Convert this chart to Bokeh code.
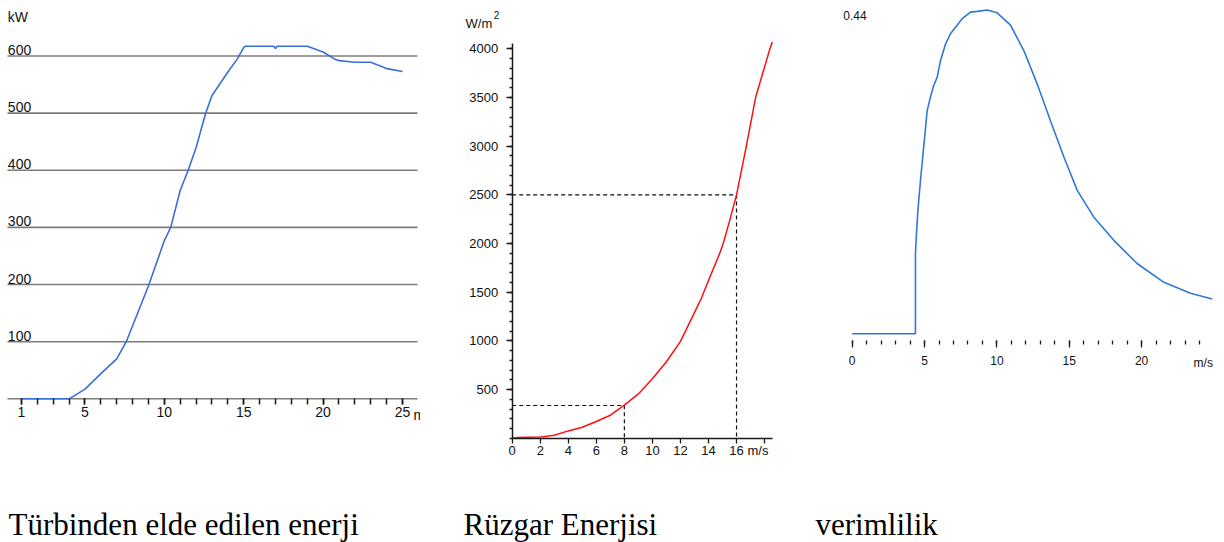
from bokeh.plotting import figure
from bokeh.layouts import row
from bokeh.models import Range1d, FixedTicker
from bokeh.embed import file_html
from bokeh.resources import INLINE
from bokeh.core.properties import value

# ---------------- data ----------------
# Panel 1: power obtained from the turbine (kW vs m/s)
turbine_speed = [1, 4, 5, 6, 7, 7.6, 8, 9, 10, 10.4, 11, 11.5, 12, 12.6, 13, 14, 14.6, 15,
                 15.1, 16, 16.9, 17.0, 17.1, 18, 19, 20, 20.7, 21, 22, 23, 24, 25]
turbine_kw = [0, 0, 17, 44, 70, 100, 128, 198, 277, 300, 365, 400, 440, 500, 531, 572, 595, 615,
              617, 617, 617, 613, 617, 617, 617, 607, 595, 592, 589, 589, 578, 573]
turbine_grid = [0, 100, 200, 300, 400, 500, 600]
turbine_grid_span = [0.118, 25.945]          # speed extent of the horizontal grid lines
turbine_ylabels = ["100", "200", "300", "400", "500", "600"]
turbine_ylabel_vals = [100, 200, 300, 400, 500, 600]
turbine_xticks = [1, 5, 10, 15, 20, 25]
turbine_xminor = [1, 2, 3, 4, 5, 6, 7, 8, 9, 10, 11, 12, 13, 14, 15, 16, 17, 18, 19, 20, 21, 22, 23, 24, 25]

# Panel 2: wind power density (W/m2 vs m/s)
wind_speed = [0, 0.4, 1, 2, 2.2, 3, 4, 5, 6, 7, 8, 9, 10, 11, 12, 13, 13.5, 14, 14.8, 15.05,
              15.5, 16, 16.7, 17.36, 18.38, 18.55]
wind_power = [0, 8, 10, 12, 14, 30, 75, 113, 172, 236, 340, 455, 610, 785, 995, 1290, 1440, 1620,
              1900, 2000, 2230, 2500, 3000, 3500, 4000, 4070]
wind_yticks = [500, 1000, 1500, 2000, 2500, 3000, 3500, 4000]
wind_yminor = [0, 100, 200, 300, 400, 500, 600, 700, 800, 900, 1000, 1100, 1200, 1300, 1400, 1500,
               1600, 1700, 1800, 1900, 2000, 2100, 2200, 2300, 2400, 2500, 2600, 2700, 2800, 2900,
               3000, 3100, 3200, 3300, 3400, 3500, 3600, 3700, 3800, 3900, 4000]
wind_xticks = [0, 2, 4, 6, 8, 10, 12, 14, 16, 18]
wind_ybounds = (0, 4058)
wind_xbounds = (0, 18.55)
guide_speeds = [8, 16]
guide_powers = [336, 2500]

# Panel 3: efficiency vs m/s
eff_speed = [0, 4.37, 4.37, 4.44, 4.54, 4.72, 5.07, 5.18, 5.41, 5.64, 5.87, 6.10, 6.45, 6.79,
             7.14, 7.60, 8.18, 8.64, 9.33, 10.02, 10.94, 11.86, 12.78, 13.70, 14.63, 15.55,
             16.70, 18.08, 19.69, 21.54, 23.38, 24.88]
eff_value = [0, 0, 0.110, 0.138, 0.170, 0.212, 0.285, 0.308, 0.327, 0.343, 0.354, 0.377, 0.400,
             0.414, 0.423, 0.435, 0.444, 0.445, 0.447, 0.443, 0.426, 0.391, 0.345, 0.294, 0.244,
             0.198, 0.161, 0.129, 0.097, 0.071, 0.056, 0.048]
eff_xticks = [0, 5, 10, 15, 20]
eff_xminor = [0, 1, 2, 3, 4, 5, 6, 7, 8, 9, 10, 11, 12, 13, 14, 15, 16, 17, 18, 19, 20, 21, 22, 23, 24]
eff_label = "0.44"
eff_label_val = 0.44

captions = ["Türbinden elde edilen enerji", "Rüzgar Enerjisi", "verimlilik"]

SANS = "Liberation Sans"
SERIF = "Liberation Serif"
INK = "#111111"
CAPTION_SIZE = "31px"


def make_fig(width, xr, yr, with_y_axis=False):
    p = figure(width=width, height=542, x_range=Range1d(*xr), y_range=Range1d(*yr),
               y_axis_type="linear" if with_y_axis else None, title=None,
               toolbar_location=None, output_backend="svg", min_border=0)
    p.outline_line_color = None
    p.background_fill_color = "white"
    p.border_fill_color = "white"
    p.xgrid.visible = False
    if with_y_axis:
        p.ygrid.visible = False
    return p


def style_axis(ax, size, standoff):
    ax.major_tick_in = 0
    ax.minor_tick_in = 0
    ax.major_tick_line_color = "#1a1a1a"
    ax.minor_tick_line_color = "#1a1a1a"
    ax.major_tick_line_width = 1.3
    ax.minor_tick_line_width = 1.3
    ax.major_label_text_font = SANS
    ax.major_label_text_font_size = size
    ax.major_label_text_color = INK
    ax.major_label_standoff = standoff


# ---------------- panel 1 ----------------
p1 = make_fig(420, (-0.3228, 26.134), (-251.5, 697.2))
p1.segment(x0=[turbine_grid_span[0]] * len(turbine_grid), y0=turbine_grid,
           x1=[turbine_grid_span[1]] * len(turbine_grid), y1=turbine_grid,
           line_color="#7c7c7c", line_width=1.6)
ax = p1.xaxis[0]
ax.fixed_location = 0
ax.ticker = FixedTicker(ticks=turbine_xticks, minor_ticks=turbine_xminor)
ax.axis_line_color = None
style_axis(ax, "14px", 2)
ax.major_tick_out = 6
ax.minor_tick_out = 6
ax.major_tick_line_width = 1.5
ax.minor_tick_line_width = 1.5

p1.line(turbine_speed, turbine_kw, line_color="#3a6fd8", line_width=1.6)
p1.text(x=[0.14] * len(turbine_ylabels), y=turbine_ylabel_vals, text=turbine_ylabels,
        text_font=value(SANS), text_font_size="14px", text_color=INK,
        text_baseline="alphabetic", text_align="left", y_offset=-6)
p1.text(x=[0.14], y=[669], text=["kW"], text_font=value(SANS), text_font_size="14px",
        text_color=INK, text_baseline="alphabetic", text_align="left")
p1.text(x=[25.69], y=[-14.2], text=["m/s"], text_font=value(SANS), text_font_size="14px",
        text_color=INK, text_baseline="top", text_align="left")
p1.text(x=[0.181], y=[-219.5], text=[captions[0]], text_font=value(SERIF),
        text_font_size=CAPTION_SIZE, text_color="#000000", text_baseline="alphabetic", text_align="left")

# ---------------- panel 2 ----------------
p2 = make_fig(380, (-6.541, 20.563), (-1071.6, 4497.1), with_y_axis=True)
ya = p2.yaxis[0]
ya.fixed_location = 0
ya.ticker = FixedTicker(ticks=wind_yticks, minor_ticks=wind_yminor)
ya.bounds = wind_ybounds
ya.axis_line_color = "#1a1a1a"
ya.axis_line_width = 1.5
style_axis(ya, "13px", 8)
ya.major_tick_out = 6
ya.minor_tick_out = 3

xa = p2.xaxis[0]
xa.fixed_location = 0
xa.ticker = FixedTicker(ticks=wind_xticks, minor_ticks=[])
xa.bounds = wind_xbounds
xa.axis_line_color = "#1a1a1a"
xa.axis_line_width = 1.5
style_axis(xa, "13px", 3)
xa.major_tick_out = 5
xa.minor_tick_out = 0
xa.major_label_overrides = {18: ""}

for gs, gp in zip(guide_speeds, guide_powers):
    p2.line([0, gs, gs], [gp, gp, 0], line_color=INK, line_width=1.2, line_dash="4 3")
p2.line(wind_speed, wind_power, line_color="#ff1010", line_width=1.5)
p2.text(x=[17.53], y=[-45], text=["m/s"], text_font=value(SANS), text_font_size="13px",
        text_color=INK, text_baseline="top", text_align="center")
p2.text(x=[-3.33], y=[4258], text=["W/m"], text_font=value(SANS), text_font_size="13px",
        text_color=INK, text_baseline="alphabetic", text_align="left")
p2.text(x=[-1.31], y=[4353], text=["2"], text_font=value(SANS), text_font_size="10px",
        text_color=INK, text_baseline="alphabetic", text_align="left")
p2.text(x=[-3.474], y=[-883.6], text=[captions[1]], text_font=value(SERIF),
        text_font_size=CAPTION_SIZE, text_color="#000000", text_baseline="alphabetic", text_align="left")

# ---------------- panel 3 ----------------
p3 = make_fig(424, (-3.573, 25.729), (-0.28806, 0.46004))
ea = p3.xaxis[0]
ea.fixed_location = -0.00925
ea.ticker = FixedTicker(ticks=eff_xticks, minor_ticks=eff_xminor)
ea.axis_line_color = None
style_axis(ea, "12px", 8)
ea.major_tick_out = 7
ea.minor_tick_out = 4

p3.line(eff_speed, eff_value, line_color="#2f78d8", line_width=1.6)
p3.text(x=[-0.62], y=[eff_label_val], text=[eff_label], text_font=value(SANS), text_font_size="12px",
        text_color=INK, text_baseline="middle", text_align="left")
p3.text(x=[23.59], y=[-0.0313], text=["m/s"], text_font=value(SANS), text_font_size="12px",
        text_color=INK, text_baseline="top", text_align="left")
p3.text(x=[-2.536], y=[-0.2628], text=[captions[2]], text_font=value(SERIF),
        text_font_size=CAPTION_SIZE, text_color="#000000", text_baseline="alphabetic", text_align="left")

layout = row(p1, p2, p3)
open("out.html", "w").write(file_html(layout, INLINE))
